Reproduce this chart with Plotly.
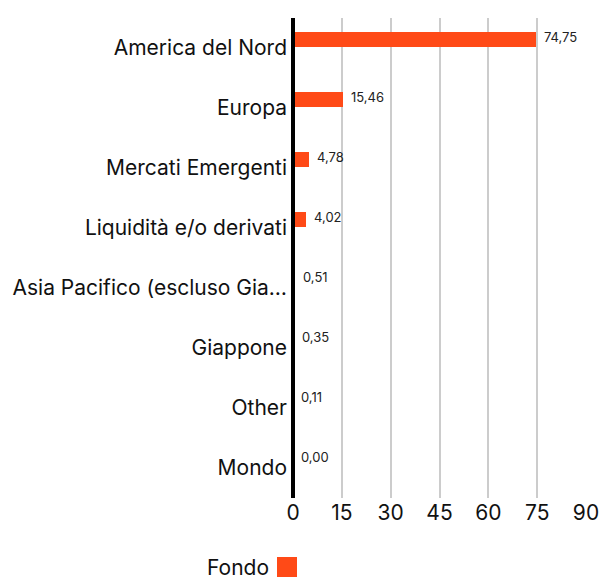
import plotly.graph_objects as go

categories = ["America del Nord", "Europa", "Mercati Emergenti", "Liquidità e/o derivati",
              "Asia Pacifico (escluso Gia…", "Giappone", "Other", "Mondo"]
values = [74.75, 15.46, 4.78, 4.02, 0.51, 0.35, 0.11, 0.00]
value_labels = ["74,75", "15,46", "4,78", "4,02", "0,51", "0,35", "0,11", "0,00"]
x_ticks = [0, 15, 30, 45, 60, 75, 90]
series_name = "Fondo"

BAR = "#FF4A17"
FONT = "Inter"

fig = go.Figure()
fig.add_trace(go.Bar(
    x=values, y=categories, orientation="h", name=series_name,
    marker=dict(color=BAR, line=dict(width=0)),
    width=0.25, offset=-0.26,
    showlegend=False, hoverinfo="x+y",
))

for c, v, t in zip(categories, values, value_labels):
    fig.add_annotation(x=v, y=c, text=t, showarrow=False, xanchor="left", yanchor="middle",
                       xshift=6, yshift=11, font=dict(family=FONT, size=13, color="#222"))

# legend: label followed by swatch
fig.add_annotation(xref="paper", yref="paper", x=-0.075, y=-0.145, text=series_name,
                   showarrow=False, xanchor="right", yanchor="middle",
                   font=dict(family=FONT, size=21, color="#111"))
fig.add_shape(type="rect", xref="paper", yref="paper", x0=-0.0546, x1=0.0137,
              y0=-0.1646, y1=-0.1229, fillcolor=BAR, line=dict(width=0))

fig.update_layout(
    width=613, height=581,
    margin=dict(l=285, r=35, t=10, b=91),
    plot_bgcolor="white", paper_bgcolor="white",
    font=dict(family=FONT, color="#111"),
    bargap=0, showlegend=False,
    xaxis=dict(range=[0, 90], tickvals=x_ticks, ticktext=[str(t) for t in x_ticks],
               showgrid=True, gridcolor="#cccccc", gridwidth=2,
               zeroline=True, zerolinecolor="black", zerolinewidth=4,
               showline=False, ticks="", ticklabelstandoff=0, automargin=False,
               tickfont=dict(size=21, family=FONT, color="#111"),
               fixedrange=True),
    yaxis=dict(type="category", categoryorder="array", categoryarray=categories,
               range=[7.5, -0.5], showgrid=False, zeroline=False, showline=False,
               ticks="", ticklabelstandoff=5, automargin=False,
               tickfont=dict(size=21, family=FONT, color="#111"),
               fixedrange=True),
)

try:
    fig.update_xaxes(zerolinelayer="above traces")
except Exception:
    fig.update_xaxes(layer="above traces")

fig.write_html("out.html")
